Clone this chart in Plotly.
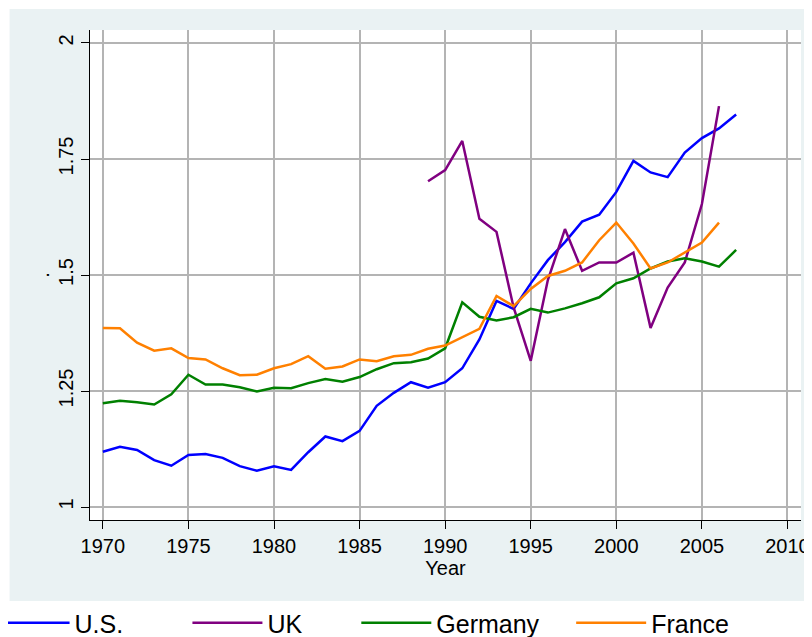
import plotly.graph_objects as go

years_long = list(range(1970, 2008))
years_fr = list(range(1970, 2007))
years_uk = list(range(1989, 2007))

us = [1.119, 1.130, 1.123, 1.101, 1.089, 1.112, 1.114, 1.106, 1.088, 1.078,
      1.088, 1.080, 1.118, 1.152, 1.142, 1.164, 1.218, 1.246, 1.269, 1.257,
      1.269, 1.299, 1.361, 1.444, 1.427, 1.482, 1.532, 1.571, 1.615, 1.630,
      1.679, 1.746, 1.721, 1.711, 1.764, 1.795, 1.816, 1.846]
germany = [1.2235, 1.229, 1.226, 1.221, 1.243, 1.285, 1.264, 1.264, 1.258, 1.249,
           1.257, 1.256, 1.267, 1.276, 1.270, 1.280, 1.297, 1.310, 1.312, 1.320,
           1.342, 1.441, 1.410, 1.402, 1.409, 1.427, 1.419, 1.428, 1.439, 1.452,
           1.482, 1.493, 1.514, 1.529, 1.536, 1.529, 1.518, 1.554]
france = [1.386, 1.385, 1.354, 1.337, 1.342, 1.321, 1.318, 1.299, 1.284, 1.285,
          1.299, 1.308, 1.325, 1.298, 1.303, 1.318, 1.314, 1.325, 1.328, 1.341,
          1.348, 1.366, 1.384, 1.455, 1.433, 1.470, 1.498, 1.509, 1.527, 1.575,
          1.613, 1.568, 1.514, 1.527, 1.549, 1.570, 1.613]
uk = [1.702, 1.726, 1.789, 1.621, 1.593, 1.430, 1.315, 1.489, 1.599, 1.509,
      1.527, 1.527, 1.548, 1.386, 1.473, 1.527, 1.653, 1.864]

x_ticks = [1970, 1975, 1980, 1985, 1990, 1995, 2000, 2005, 2010]
y_ticks = [1, 1.25, 1.5, 1.75, 2]
y_tick_labels = ["1", "1.25", "1.5", "1.75", "2"]

FONT = "Liberation Sans, Arial, Helvetica, sans-serif"
BG = "#EAF2F3"

# page body has an 8px margin: figure origin sits at page (8, 8)
OFF = 8
W, H = 812 - OFF, 637 - OFF
ML, MR, MT, MB = 89.5 - OFF, 11, 30 - OFF, 117
PW = W - ML - MR
PH = H - MT - MB

def px_x(p):  # page pixel -> paper x
    return (p - OFF - ML) / PW

def px_y(p):  # page pixel -> paper y
    return (H - MB - (p - OFF)) / PH

fig = go.Figure()
series = [
    ("U.S.", years_long, us, "#0000FF", "legend"),
    ("UK", years_uk, uk, "#800080", "legend2"),
    ("Germany", years_long, germany, "#008000", "legend3"),
    ("France", years_fr, france, "#FF8000", "legend4"),
]
for name, xs, ys, col, lg in series:
    fig.add_trace(go.Scatter(x=xs, y=ys, mode="lines", name=name,
                             line=dict(color=col, width=2.5), legend=lg))

legend_x_px = [-6, 187, 356, 571]
leg_common = dict(orientation="h", yanchor="middle", y=px_y(623), xanchor="left",
                  bgcolor="rgba(0,0,0,0)", font=dict(family=FONT, size=25, color="#000"),
                  itemwidth=70)
layout_legends = {}
for i, key in enumerate(["legend", "legend2", "legend3", "legend4"]):
    d = dict(leg_common)
    d["x"] = px_x(legend_x_px[i])
    layout_legends[key] = d

fig.update_layout(
    width=W, height=H,
    margin=dict(l=ML, r=MR, t=MT, b=MB, autoexpand=False),
    paper_bgcolor="white",
    plot_bgcolor="white",
    font=dict(family=FONT, size=20, color="#000"),
    showlegend=True,
    shapes=[
        dict(type="rect", xref="paper", yref="paper",
             x0=px_x(9), x1=px_x(830), y0=px_y(601), y1=px_y(9),
             fillcolor=BG, line=dict(width=0), layer="below"),
        dict(type="rect", xref="paper", yref="paper",
             x0=0, x1=1, y0=0, y1=1,
             fillcolor="white", line=dict(width=0), layer="below"),
    ],
    **layout_legends,
)

fig.update_xaxes(
    range=[1969.25, 2010.79], tickvals=x_ticks, ticks="outside", ticklen=8,
    tickcolor="#000", showline=True, linecolor="#000", linewidth=1,
    showgrid=True, gridcolor="#B4B4B4", gridwidth=2, zeroline=False,
    tickfont=dict(size=20), title=dict(text="Year", font=dict(size=20), standoff=0),
)
fig.update_yaxes(
    range=[0.972, 2.028], tickvals=y_ticks, ticktext=y_tick_labels, tickangle=-90,
    ticks="outside", ticklen=8, tickcolor="#000", showline=True, linecolor="#000",
    linewidth=1, showgrid=True, gridcolor="#B4B4B4", gridwidth=2, zeroline=False,
    tickfont=dict(size=20), title=dict(text=".", font=dict(size=20), standoff=0),
)

fig.write_html("out.html")
